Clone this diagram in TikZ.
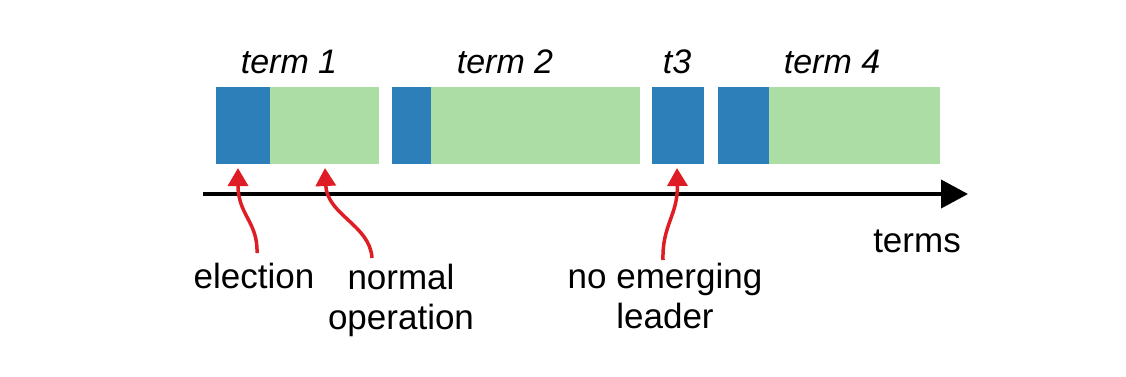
\documentclass[tikz,border=0pt]{standalone}
\usepackage{fontspec}
\setmainfont{Liberation Sans}
\usetikzlibrary{arrows.meta}
\definecolor{elecblue}{RGB}{44,127,184}
\definecolor{opgreen}{RGB}{172,221,164}
\definecolor{callred}{RGB}{222,30,36}
\tikzset{
  seg/.style={inner sep=0pt, outer sep=0pt, minimum height=77, anchor=north west},
  elect/.style={seg, fill=elecblue},
  oper/.style={seg, fill=opgreen},
  lbl/.style={font=\fontsize{35}{40}\selectfont, inner sep=0pt, align=center},
  termlbl/.style={lbl, font=\fontsize{34}{40}\selectfont\itshape, anchor=base},
  callout/.style={draw=callred, line width=3.5, -{Triangle[length=18,width=20]}},
  axis/.style={draw=black, line width=4, -{Triangle[length=27,width=28]}}
}
\begin{document}
\begin{tikzpicture}[x=1pt, y=-1pt]
\useasboundingbox (0,0) rectangle (1126,376);

% terms: election phase (blue) followed by normal operation (green)
\node[elect, minimum width=54]  (e1) at (216,87) {};
\node[oper,  minimum width=109] (o1) at (270,87) {};
\node[elect, minimum width=39]  (e2) at (392,87) {};
\node[oper,  minimum width=209] (o2) at (431,87) {};
\node[elect, minimum width=52]  (e3) at (652,87) {};
\node[elect, minimum width=51]  (e4) at (718,87) {};
\node[oper,  minimum width=171] (o4) at (769,87) {};

% term captions
\node[termlbl] (t1) at (289,73) {term 1};
\node[termlbl] (t2) at (505,73) {term 2};
\node[termlbl] (t3) at (677,73) {t3};
\node[termlbl] (t4) at (832,73) {term 4};

% time axis
\coordinate (axL) at (203,194);
\coordinate (axR) at (968,194);
\draw[axis] (axL) -- (axR);
\node[lbl, anchor=base] (axlbl) at (917,252) {terms};

% callout labels (base anchor sits on the last line)
\node[lbl, anchor=base] (lel) at (254,288) {election};
\node[lbl, anchor=base] (lop) at (401,329) {normal\\operation};
\node[lbl, anchor=base] (lno) at (665,328) {no emerging\\leader};

% callout arrows
\coordinate (ael) at (257,253);
\coordinate (aop) at (372,258);
\coordinate (ano) at (663,260);
\coordinate (pel) at (238,168);
\coordinate (pop) at (325,168);
\coordinate (pno) at (677,168);
\draw[callout] (ael) .. controls (258,222) and (238,215) .. (pel);
\draw[callout] (aop) .. controls (370,225) and (327,215) .. (pop);
\draw[callout] (ano) .. controls (662,225) and (678,215) .. (pno);
\end{tikzpicture}
\end{document}
